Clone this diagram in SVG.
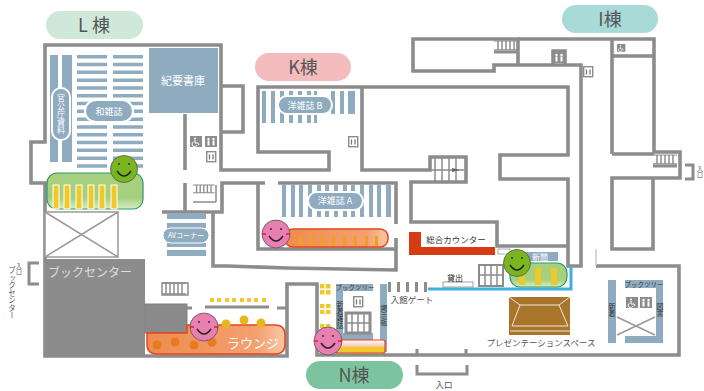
<svg xmlns="http://www.w3.org/2000/svg" xmlns:xlink="http://www.w3.org/1999/xlink" width="704" height="391" viewBox="0 0 704 391">
<style>
text{font-family:"Noto Sans CJK JP","Liberation Sans",sans-serif}
.w{fill:none;stroke:#8c8c8c;stroke-width:3.6}
.t{fill:none;stroke:#8c8c8c;stroke-width:3}
.b{fill:#8fabc0}
.ov{fill:#8fabc0;stroke:#fff;stroke-width:2}
.lw{fill:#fff;font-size:9px;text-anchor:middle}
.ld{fill:#555;font-size:8.5px;text-anchor:middle}
.pill{font-size:18px;fill:#555;text-anchor:middle}
.y{fill:#f0c828;stroke:#fff;stroke-width:1}
.sq{fill:#f0c828}
.s{stroke:#8c8c8c;stroke-width:1.5;fill:none}
.v{writing-mode:vertical-rl;text-anchor:middle}
.x{stroke:#999;stroke-width:1.5;fill:none}
.od{fill:#e87a20}
.yd{fill:#e8b420}
</style>
<defs>
<linearGradient id="gg" x1="0" y1="0" x2="0" y2="1"><stop offset="0" stop-color="#a8d080"/><stop offset="0.7" stop-color="#a4d07c"/><stop offset="1" stop-color="#d8ecc4"/></linearGradient>
<linearGradient id="og" x1="0" y1="0" x2="1" y2="0"><stop offset="0" stop-color="#ee8c50"/><stop offset="0.8" stop-color="#f4a070"/><stop offset="1" stop-color="#f8c8a8"/></linearGradient>
<linearGradient id="yg" x1="0" y1="0" x2="0" y2="1"><stop offset="0" stop-color="#fff"/><stop offset="0.5" stop-color="#f8c8b0"/><stop offset="0.55" stop-color="#f0c828"/><stop offset="1" stop-color="#f0c828"/></linearGradient>
<g id="eyes"><circle cx="-5" cy="-5" r="1" fill="#333"/><circle cx="5" cy="-5" r="1" fill="#333"/><path d="M-7 2Q0 12 7 2" fill="none" stroke="#222" stroke-width="1.5"/></g>
<g id="fp"><circle r="14" fill="#e87fb0" stroke="#555" stroke-width="0.8"/><use xlink:href="#eyes" href="#eyes"/><path d="M-14 0h4M10 0h4" stroke="#e0202a" stroke-width="1.5"/></g>
<g id="fg"><circle r="13.5" fill="#7ab41e" stroke="#555" stroke-width="0.8"/><use xlink:href="#eyes" href="#eyes"/></g>
<g id="wc"><rect width="12" height="11" fill="#8c8c8c"/><circle cx="3.5" cy="3" r="1.2" fill="#fff"/><circle cx="8.5" cy="3" r="1.2" fill="#fff"/><path d="M3.5 4.5v5M8.5 4.5v5" stroke="#fff" stroke-width="2"/></g>
<g id="hc"><rect width="12" height="11" fill="#8c8c8c"/><circle cx="5" cy="2.5" r="1" fill="#fff"/><path d="M5 4v3h3l1 2" fill="none" stroke="#fff"/><path d="M3.5 6a2.5 2.5 0 1 0 3.5 3" fill="none" stroke="#fff"/></g>
<g id="ev"><rect x="0.7" y="0.7" width="9" height="10" fill="#fff" stroke="#8c8c8c" stroke-width="1.4"/><path d="M3.5 3.5v5M7 3.5v5" stroke="#777" stroke-width="1.3"/></g>
<g id="st"><path d="M0 0h24M0 11h24M4 0v11M8 0v11M12 0v11M16 0v11M20 0v11" stroke="#8c8c8c" stroke-width="1.5" fill="none"/></g>
</defs>

<g id="walls">
<path class="w" d="M45 257V183H31V142H45V45H221V170H329V152H258V87H568V155H500V179H568V266H581V65H518V39H413V71H494V65H518"/>
<path class="w" d="M221 86H243V132H221"/>
<path class="w" d="M185 114V170M185 183V212M162 212H222V183H265M258 183V249H395M278 183H396V224M396 238V270L287 268L228 266M213 212V266H228"/>
<path class="w" d="M362 87V170H430V157H466V182H411V222H497V246H568"/>
<path class="w" d="M553 64V51H565V64"/>
<path class="w" d="M518 39H654V152H680V178H653V249H612V178H653M612 154H654M612 39V154M612 56H654"/>
<path class="w" d="M596 266H679V355H317V284H287V356H45V257"/>
<path d="M596 249V266" fill="none" stroke="#bbb" stroke-width="1.2"/>
<path class="t" d="M187 308H192M205 307H269M277 308H287M417 349V355M466 349V355"/>
<path class="t" d="M685 165H693V179H685"/>
<path class="t" d="M39 263H29V284H39"/>
<path class="t" d="M417 365V374H467V365"/>
</g>

<g id="void"><rect x="45" y="212" width="73" height="45" fill="#fff" stroke="#999" stroke-width="1.5"/><path class="x" d="M45 212L118 257M118 212L45 257"/></g>
<g id="book-center"><rect x="45" y="259" width="100" height="97" fill="#8c8c8c"/><rect x="145" y="304" width="42" height="29" fill="#8a8a8a" stroke="#808080"/><text x="90" y="277" fill="#ddd" font-size="12" text-anchor="middle">ブックセンター</text></g>

<g id="entry-left"><text class="v" x="19" y="269" fill="#555" font-size="6">入口</text><text class="v" x="12" y="293" fill="#555" font-size="7.500">ブックセンター</text></g>
<g id="entry-right"><text class="v" x="700" y="172" fill="#555" font-size="6">入口</text></g>

<g id="l-building">
<rect x="46" y="11" width="97" height="28" rx="14" fill="#cfe8da"/><text class="pill" x="94" y="32">L 棟</text>
<rect class="b" x="50" y="55" width="8" height="107"/><rect class="b" x="62" y="55" width="10" height="107"/>
<rect class="ov" x="52" y="88" width="18" height="52" rx="9"/>
<text class="lw v" x="61" y="114" style="font-size:8px">官公庁資料</text>
<g class="b" id="shelves-l">
<path d="M77 55h30v3.5h-30zM113 55h30v3.5h-30zM77 62.800h30v3.500h-30zM113 62.800h30v3.500h-30zM77 70.600h30v3.500h-30zM113 70.600h30v3.500h-30zM77 78.400h30v3.500h-30zM113 78.400h30v3.500h-30zM77 86.200h30v3.500h-30zM113 86.200h30v3.500h-30zM77 94h30v3.500h-30zM113 94h30v3.500h-30zM77 101.800h30v3.500h-30zM113 101.800h30v3.500h-30zM77 109.600h30v3.500h-30zM113 109.600h30v3.500h-30zM77 117.400h30v3.500h-30zM113 117.400h30v3.500h-30zM77 125.200h30v3.500h-30zM113 125.200h30v3.500h-30zM77 133h30v3.500h-30zM113 133h30v3.500h-30zM77 140.800h30v3.500h-30zM113 140.800h30v3.500h-30zM77 148.600h30v3.500h-30zM113 148.600h30v3.500h-30zM77 156.400h30v3.500h-30zM113 156.400h30v3.500h-30zM77 164.200h30v3.500h-30zM113 164.200h30v3.500h-30z"/>
</g>
<rect class="ov" x="85" y="100" width="48" height="22" rx="11"/><text class="lw" x="109" y="115">和雑誌</text>
<rect class="b" x="149" y="48" width="69" height="65"/><text class="lw" x="183" y="85" style="font-size:11px">紀要書庫</text>
<use xlink:href="#hc" href="#hc" x="190" y="136"/><use xlink:href="#wc" href="#wc" x="205" y="136"/><use xlink:href="#ev" href="#ev" x="206" y="151"/>
<use xlink:href="#st" href="#st" transform="translate(193,185) scale(0.9,0.7)"/>
<path class="s" d="M193 202H216M216 185V202"/>
<rect x="47" y="173" width="96" height="36" rx="10" fill="url(#gg)" stroke="#2a9a6a" stroke-width="1.2"/>
<rect class="y" x="53" y="185" width="6" height="24"/><rect class="y" x="64" y="185" width="6" height="24"/><rect class="y" x="76" y="185" width="6" height="24"/><rect class="y" x="88" y="185" width="6" height="24"/><rect class="y" x="99" y="185" width="6" height="24"/><rect class="y" x="111" y="185" width="6" height="24"/>
<use xlink:href="#fg" href="#fg" x="124" y="169"/>
</g>

<g id="av-corner">
<rect class="b" x="167" y="213" width="39" height="6"/><rect class="b" x="167" y="223" width="39" height="5"/><rect class="b" x="167" y="243" width="39" height="4"/><rect class="b" x="167" y="250" width="39" height="6"/>
<rect class="ov" x="163" y="228" width="46" height="15" rx="7.500" style="stroke-width:1"/><text class="lw" x="186" y="238" style="font-size:7px">AVコーナー</text>
<use xlink:href="#st" href="#st" transform="translate(162,283)"/><rect x="162" y="283" width="26" height="12" fill="none" stroke="#8c8c8c" stroke-width="1.5"/>
</g>

<g id="lounge">
<rect x="210" y="298" width="4" height="4" class="sq"/><rect x="217" y="298" width="4" height="4" class="sq"/><rect x="225" y="298" width="4" height="4" class="sq"/><rect x="232" y="298" width="4" height="4" class="sq"/><rect x="240" y="298" width="4" height="4" class="sq"/><rect x="247" y="298" width="4" height="4" class="sq"/><rect x="254" y="298" width="4" height="4" class="sq"/><rect x="262" y="298" width="4" height="4" class="sq"/>
<path d="M147 333H187V325H275Q285 325 285 335V344Q285 354 275 354H157Q147 354 147 344Z" fill="url(#og)" stroke="#e8441a" stroke-width="1.5"/>
<circle class="od" cx="157" cy="345" r="4.500"/><circle class="od" cx="175" cy="342" r="4.500"/><circle class="od" cx="194" cy="345" r="4.500"/><circle class="od" cx="212" cy="342" r="4.500"/>
<circle class="yd" cx="226" cy="324" r="4.500"/><circle class="yd" cx="244" cy="320" r="4.500"/><circle class="yd" cx="261" cy="323" r="4.500"/>
<text x="253" y="348" fill="#fff" font-size="13" text-anchor="middle">ラウンジ</text>
<use xlink:href="#fp" href="#fp" x="204" y="327"/>
</g>

<g id="k-building">
<rect x="255" y="53" width="96" height="28" rx="14" fill="#f4bcbc"/><text class="pill" x="303" y="74">K棟</text>
<g class="b"><rect x="262" y="91" width="4" height="32"/><rect x="271" y="91" width="4" height="32"/><rect x="280" y="91" width="4" height="32"/><rect x="289" y="91" width="4" height="32"/><rect x="298" y="91" width="4" height="32"/><rect x="307" y="91" width="4" height="32"/><rect x="314" y="91" width="3" height="32"/><rect x="331" y="91" width="4" height="23"/><rect x="340" y="91" width="4" height="23"/><rect x="348" y="91" width="7" height="23"/></g>
<rect class="ov" x="278" y="96" width="54" height="18" rx="9"/><text class="lw" x="305" y="109">洋雑誌 B</text>
<use xlink:href="#ev" href="#ev" x="348" y="136"/>
<path class="s" d="M431 170H464M435 158V181M442 158V181M449 158V181M456 158V181"/><path d="M452 168L460 170L452 172Z" fill="#666"/>
<g class="b"><rect x="282" y="185" width="4" height="32"/><rect x="291" y="185" width="4" height="32"/><rect x="299" y="185" width="4" height="32"/><rect x="308" y="185" width="4" height="32"/><rect x="317" y="185" width="4" height="32"/><rect x="325" y="185" width="4" height="32"/><rect x="334" y="185" width="4" height="32"/><rect x="343" y="185" width="4" height="32"/><rect x="351" y="185" width="4" height="32"/><rect x="360" y="185" width="4" height="32"/><rect x="369" y="185" width="4" height="32"/><rect x="377" y="185" width="4" height="32"/><rect x="386" y="185" width="5" height="32"/></g>
<rect class="ov" x="308" y="192" width="55" height="18" rx="9"/><text class="lw" x="335" y="204">洋雑誌 A</text>
<rect x="285" y="229" width="103" height="18" rx="8" fill="url(#og)" stroke="#e8441a" stroke-width="1.5"/>
<g fill="#f0a020"><rect x="299" y="236" width="3" height="10"/><rect x="310" y="236" width="3" height="10"/><rect x="321" y="236" width="3" height="10"/><rect x="332" y="236" width="3" height="10"/><rect x="343" y="236" width="3" height="10"/><rect x="354" y="236" width="3" height="10"/><rect x="365" y="236" width="3" height="10"/><rect x="375" y="236" width="3" height="10"/></g>
<use xlink:href="#fp" href="#fp" x="276" y="234"/>
</g>

<g id="counter"><path d="M409 232H421V247H495V255H409Z" fill="#d63c14"/><text x="456" y="243" fill="#333" font-size="8.500" text-anchor="middle">総合カウンター</text></g>

<g id="gate">
<g fill="#8c8c8c"><rect x="388" y="282" width="3" height="10"/><rect x="397" y="282" width="3" height="10"/><rect x="406" y="282" width="3" height="10"/><rect x="415" y="282" width="3" height="10"/><rect x="424" y="282" width="3" height="10"/></g>
<text class="ld" x="412" y="303">入館ゲート</text>
<path d="M428 289H571V266" fill="none" stroke="#3fb0dc" stroke-width="3"/>
<rect x="443" y="282" width="30" height="5" fill="#fff" stroke="#888" stroke-width="0.8"/><text x="455" y="281" fill="#222" font-size="8" text-anchor="middle">貸出</text>
<rect x="479" y="265" width="24" height="21" fill="#fff" stroke="#8c8c8c" stroke-width="2"/><path class="s" d="M479 275H503M485 265V286M491 265V286M497 265V286"/>
</g>

<g id="news">
<rect x="498" y="249" width="12" height="5" fill="#fff" stroke="#999" stroke-width="0.8"/>
<rect class="b" x="523" y="252" width="35" height="9"/><text class="lw" x="540" y="260" style="font-size:8px">新聞</text>
<rect x="510" y="263" width="57" height="24" rx="10" fill="url(#gg)" stroke="#2a9a6a" stroke-width="1.2"/>
<rect class="sq" x="519" y="268" width="6" height="17"/><rect class="sq" x="535" y="268" width="6" height="17"/><rect class="sq" x="551" y="268" width="6" height="17"/>
<use xlink:href="#fg" href="#fg" x="517" y="263"/>
</g>

<g id="presentation">
<rect x="509" y="297" width="61" height="38" fill="#a8752a"/>
<path d="M509 297L520 305H559L570 297M520 305L512 326M559 305L568 326M512 326H568M510 331H570" fill="none" stroke="#f0e8d8" stroke-width="1"/>
<text class="ld" x="541" y="346">プレゼンテーションスペース</text>
</g>

<g id="n-building">
<rect x="306" y="361" width="97" height="28" rx="14" fill="#7cc4a0"/><text class="pill" x="354" y="382">N棟</text>
<g class="sq"><rect x="320" y="284" width="4.500" height="4.500"/><rect x="326" y="284" width="4.500" height="4.500"/><rect x="320" y="290" width="4.500" height="4.500"/><rect x="326" y="290" width="4.500" height="4.500"/><rect x="320" y="304" width="4.500" height="4"/><rect x="326" y="304" width="4.500" height="4"/><rect x="320" y="310" width="4.500" height="4"/><rect x="326" y="310" width="4.500" height="4"/><rect x="320" y="324" width="4.500" height="4"/><rect x="326" y="324" width="4.500" height="4"/></g>
<path class="b" d="M336 284H373V291H343V333H373V340H336Z"/><rect class="b" x="380" y="284" width="7" height="68"/>
<text x="355" y="290" fill="#333" font-size="6.500" text-anchor="middle">ブックツリー</text>
<text class="v" x="340" y="315" fill="#333" font-size="7">新着雑誌</text><text class="v" x="384" y="315" fill="#333" font-size="7">掲示板</text>
<use xlink:href="#ev" href="#ev" x="353" y="296"/>
<rect x="346" y="313" width="24" height="20" fill="#fff" stroke="#8c8c8c" stroke-width="3"/><path class="s" d="M346 323H370M352 313V333M358 313V333M364 313V333"/>
<rect x="336" y="340" width="49" height="13" rx="2" fill="url(#yg)" stroke="#e8441a" stroke-width="1.200"/>
<use xlink:href="#fp" href="#fp" x="328" y="341"/>
</g>

<g id="entrance"><text class="ld" x="444" y="388">入口</text></g>

<g id="i-building">
<rect x="562" y="5" width="96" height="28" rx="14" fill="#a8dad8"/><text class="pill" x="610" y="26">I棟</text>
<use xlink:href="#st" href="#st" transform="translate(494,41) scale(1,0.8)"/><path class="t" d="M494 52H518"/>
<use xlink:href="#wc" href="#wc" x="553" y="52"/><use xlink:href="#ev" href="#ev" x="583" y="66"/>
<use xlink:href="#hc" href="#hc" transform="translate(617,44) scale(0.7)"/>
<use xlink:href="#st" href="#st" transform="translate(653,155) scale(1,0.8)"/><path class="t" d="M653 166H677"/>
<g id="book-tree-i">
<path class="b" d="M608 280h8v63h-8zM625 280H663V343H625V336H656V288H625Z"/>
<text x="644" y="287" fill="#333" font-size="6.500" text-anchor="middle">ブックツリー</text>
<text class="v" x="612" y="310" fill="#333" font-size="7">新着</text><text class="v" x="660" y="310" fill="#333" font-size="7">図書</text>
<use xlink:href="#hc" href="#hc" x="626" y="297"/><use xlink:href="#wc" href="#wc" x="640" y="297"/>
<path class="x" d="M617 317L655 335M617 335L655 317"/>
</g>
</g>
</svg>
